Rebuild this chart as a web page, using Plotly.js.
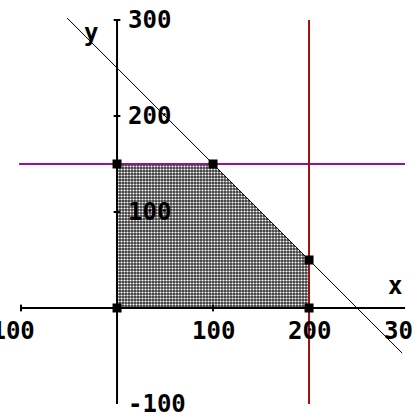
<!DOCTYPE html>
<html>
<head>
<meta charset="utf-8">
<script src="https://cdn.plot.ly/plotly-3.0.1.min.js"></script>
<style>
  html, body { margin: 0; padding: 0; background: #fff; }
  #plot { width: 413px; height: 414px; }
</style>
</head>
<body>
<div id="plot"></div>
<script>
// feasible region corners
const cornerX = [0, 0, 100, 200, 200];
const cornerY = [0, 150, 150, 50, 0];

// constraint lines
const diagX = [-52, 297];      // x + y = 250
const diagY = [302, -47];
const horizX = [-102, 300];    // y = 150
const horizY = [150, 150];
const vertX = [200, 200];      // x = 200
const vertY = [300, -100];

// axes
const xAxisX = [-100, 300];
const yAxisY = [-100, 300];
const xTicks = [-100, 100, 200, 300];
const xTickLabels = ['-100', '100', '200', '300'];
const yTicks = [300, 200, 100, -100];
const yTickLabels = ['300', '200', '100', '-100'];

const tickFont = { family: 'DejaVu Sans Mono', size: 24, color: '#000', weight: 'bold' };

// tick marks as short segments
const xtx = [], xty = [];
[-100, 100, 200].forEach(function (t) {
  xtx.push(t, t, null);
  xty.push(-3.5, 3.5, null);
});
const ytx = [], yty = [];
[300, 200, 100].forEach(function (t) {
  ytx.push(-3.5, 3.5, null);
  yty.push(t, t, null);
});

const traces = [
  {
    x: cornerX.concat([cornerX[0]]),
    y: cornerY.concat([cornerY[0]]),
    mode: 'lines',
    fill: 'toself',
    fillcolor: '#6a6a6a',
    fillpattern: { shape: '.', fgcolor: '#ffffff', bgcolor: '#383838', size: 3, solidity: 0.4 },
    line: { width: 0 },
    hoverinfo: 'skip',
  },
  {
    x: diagX, y: diagY, mode: 'lines',
    line: { color: '#000', width: 1 },
  },
  {
    x: horizX, y: horizY, mode: 'lines',
    line: { color: '#9a109a', width: 2 },
  },
  {
    x: vertX, y: vertY, mode: 'lines',
    line: { color: '#a01010', width: 2 },
  },
  {
    x: xAxisX, y: [0, 0], mode: 'lines',
    line: { color: '#000', width: 2 },
  },
  {
    x: [0, 0], y: yAxisY, mode: 'lines',
    line: { color: '#000', width: 2 },
  },
  {
    x: xtx, y: xty, mode: 'lines',
    line: { color: '#000', width: 2 },
  },
  {
    x: ytx, y: yty, mode: 'lines',
    line: { color: '#000', width: 2 },
  },
  {
    x: cornerX, y: cornerY, mode: 'markers',
    marker: { symbol: 'square', size: 9, color: '#000' },
  },
];

const annotations = [];
xTicks.forEach(function (t, i) {
  annotations.push({
    x: t === -100 ? -116 : t, y: -24, xref: 'x', yref: 'y',
    text: xTickLabels[i], showarrow: false,
    xanchor: 'center', yanchor: 'middle', font: tickFont,
  });
});
yTicks.forEach(function (t, i) {
  annotations.push({
    x: 9, y: t, xref: 'x', yref: 'y',
    text: yTickLabels[i], showarrow: false,
    xanchor: 'left', yanchor: 'middle', font: tickFont,
  });
});
annotations.push({
  x: 290, y: 23, xref: 'x', yref: 'y', text: 'x', showarrow: false,
  xanchor: 'center', yanchor: 'middle', font: tickFont,
});
annotations.push({
  x: -27, y: 286, xref: 'x', yref: 'y', text: 'y', showarrow: false,
  xanchor: 'center', yanchor: 'middle', font: tickFont,
});

Plotly.newPlot('plot', traces, {
  width: 413,
  height: 414,
  margin: { l: 0, r: 0, t: 0, b: 0 },
  paper_bgcolor: '#fff',
  plot_bgcolor: '#fff',
  showlegend: false,
  xaxis: { range: [-121.9, 308.3], visible: false, fixedrange: true },
  yaxis: { range: [-110.4, 320.8], visible: false, fixedrange: true },
  annotations: annotations,
}, { staticPlot: true });
</script>
</body>
</html>
